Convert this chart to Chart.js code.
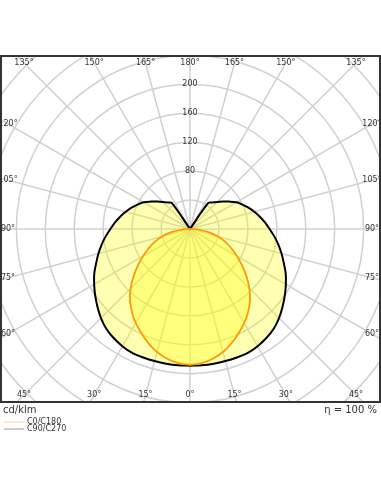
<!DOCTYPE html>
<html>
<head>
<meta charset="utf-8">
<script src="https://cdn.jsdelivr.net/npm/chart.js@4.4.1/dist/chart.umd.min.js"></script>
<style>
  html, body { margin: 0; padding: 0; background: #fff; }
</style>
</head>
<body>
<canvas id="chart" width="381" height="492"></canvas>
<script>
// gamma angles (degrees from nadir) and intensities in cd/klm
var gammaAngles = [0, 5, 10, 15, 20, 25, 30, 35, 40, 45, 50, 55, 60, 65, 70, 75, 80, 85, 90,
    95, 100, 105, 110, 115, 120, 125, 130, 135, 140, 145, 150, 155, 160, 165, 170, 175, 180];
var c0c180 = [188, 186, 182, 176, 168, 159, 150, 140, 129, 116, 102, 88, 75, 63, 52, 40, 27, 13, 0,
    0, 0, 0, 0, 0, 0, 0, 0, 0, 0, 0, 0, 0, 0, 0, 0, 0, 0];
var c90c270 = [189, 189, 189, 189, 189, 189, 187, 184, 180, 174, 167, 160, 153, 146, 138, 131, 124, 117, 110,
    104, 98, 92, 86, 80, 74, 66, 59, 53, 48, 44, 0, 0, 0, 0, 0, 0, 0];
var ringValues = [40, 80, 120, 160, 200, 240, 280, 320, 360];
var ringLabels = [80, 120, 160, 200];
var rayAngles = [0, 15, 30, 45, 60, 75, 90, 105, 120, 135, 150, 165, 180];
var unitLabel = 'cd/klm';
var efficiencyLabel = 'η = 100 %';

var pxPerUnit = 0.7235;
var xLimit = 190 / pxPerUnit;
var yLimit = 173 / pxPerUnit;

// closed loop: right half 0 -> 180, then left half 180 -> 0
function polarLoop(values) {
    var pts = [];
    for (var i = 0; i < gammaAngles.length; i++) {
        var a = gammaAngles[i] * Math.PI / 180;
        pts.push({ x: values[i] * Math.sin(a), y: -values[i] * Math.cos(a) });
    }
    for (var j = gammaAngles.length - 1; j >= 0; j--) {
        var b = gammaAngles[j] * Math.PI / 180;
        pts.push({ x: -values[j] * Math.sin(b), y: -values[j] * Math.cos(b) });
    }
    return pts;
}

var polarGrid = {
    id: 'polarGrid',
    beforeDatasetsDraw: function (chart) {
        var ctx = chart.ctx, area = chart.chartArea;
        var sx = chart.scales.x, sy = chart.scales.y;
        var cx = sx.getPixelForValue(0), cy = sy.getPixelForValue(0);
        ctx.save();
        ctx.beginPath();
        ctx.rect(area.left, area.top, area.right - area.left, area.bottom - area.top);
        ctx.clip();
        ctx.strokeStyle = '#d0d0d0';
        ctx.lineWidth = 1.5;
        ringValues.forEach(function (v) {
            var r = sx.getPixelForValue(v) - cx;
            ctx.beginPath();
            ctx.arc(cx, cy, r, 0, Math.PI * 2);
            ctx.stroke();
        });
        for (var a = 0; a < 360; a += 15) {
            var t = a * Math.PI / 180;
            ctx.beginPath();
            ctx.moveTo(cx, cy);
            ctx.lineTo(cx + 400 * Math.sin(t), cy + 400 * Math.cos(t));
            ctx.stroke();
        }
        ctx.restore();
    },
    afterDatasetsDraw: function (chart) {
        var ctx = chart.ctx, area = chart.chartArea;
        var sx = chart.scales.x, sy = chart.scales.y;
        var cx = sx.getPixelForValue(0), cy = sy.getPixelForValue(0);
        ctx.save();
        ctx.fillStyle = '#333';
        ctx.font = '8px "DejaVu Sans"';
        ctx.textAlign = 'center';
        ctx.textBaseline = 'middle';
        ringLabels.forEach(function (v) {
            ctx.fillText(String(v), cx, sy.getPixelForValue(v));
        });

        // angle labels along the rays, just inside the frame
        var halfW = (area.right - area.left) / 2 - 8;
        var halfH = (area.bottom - area.top) / 2 - 7;
        rayAngles.forEach(function (a) {
            var sides = (a === 0 || a === 180) ? [1] : [1, -1];
            sides.forEach(function (s) {
                var t = a * Math.PI / 180;
                var dx = s * Math.sin(t), dy = Math.cos(t);
                var k = Math.min(
                    Math.abs(dx) > 1e-6 ? halfW / Math.abs(dx) : 1e9,
                    Math.abs(dy) > 1e-6 ? halfH / Math.abs(dy) : 1e9);
                ctx.fillText(a + '°', cx + dx * k, cy + dy * k);
            });
        });

        // frame
        ctx.strokeStyle = '#333';
        ctx.lineWidth = 2;
        ctx.strokeRect(area.left + 1, area.top, area.right - area.left - 1, area.bottom - area.top);

        // captions under the frame
        ctx.font = '10px "DejaVu Sans"';
        ctx.textAlign = 'left';
        ctx.fillText(unitLabel, 3, area.bottom + 8);
        ctx.textAlign = 'right';
        ctx.fillText(efficiencyLabel, 377, area.bottom + 8);

        // small legend
        ctx.font = '8px "DejaVu Sans"';
        ctx.textAlign = 'left';
        var legendColors = ['#ffcf8f', '#9a9a9a'];
        chart.data.datasets.slice().reverse().forEach(function (ds, i) {
            var y = area.bottom + 20 + i * 7;
            ctx.strokeStyle = legendColors[i];
            ctx.lineWidth = 1;
            ctx.beginPath();
            ctx.moveTo(4, y);
            ctx.lineTo(24, y);
            ctx.stroke();
            ctx.fillStyle = '#333';
            ctx.fillText(ds.label, 27, y);
        });
        ctx.restore();
    }
};

new Chart(document.getElementById('chart'), {
    type: 'scatter',
    data: {
        datasets: [{
            label: 'C90/C270',
            data: polarLoop(c90c270),
            showLine: true,
            fill: 'shape',
            borderColor: '#000',
            backgroundColor: 'rgba(255, 255, 0, 0.3)',
            borderWidth: 2,
            pointRadius: 0,
            tension: 0.3,
            order: 1
        }, {
            label: 'C0/C180',
            data: polarLoop(c0c180),
            showLine: true,
            fill: 'shape',
            borderColor: '#ff9900',
            backgroundColor: 'rgba(255, 255, 0, 0.3)',
            borderWidth: 1.8,
            pointRadius: 0,
            tension: 0.3,
            order: 0
        }]
    },
    options: {
        responsive: false,
        animation: false,
        layout: { padding: { top: 56, bottom: 90, left: 0, right: 1 } },
        scales: {
            x: { type: 'linear', min: -xLimit, max: xLimit, display: false },
            y: { type: 'linear', min: -yLimit, max: yLimit, display: false }
        },
        plugins: {
            legend: { display: false },
            tooltip: { enabled: false }
        }
    },
    plugins: [polarGrid]
});
</script>
</body>
</html>
